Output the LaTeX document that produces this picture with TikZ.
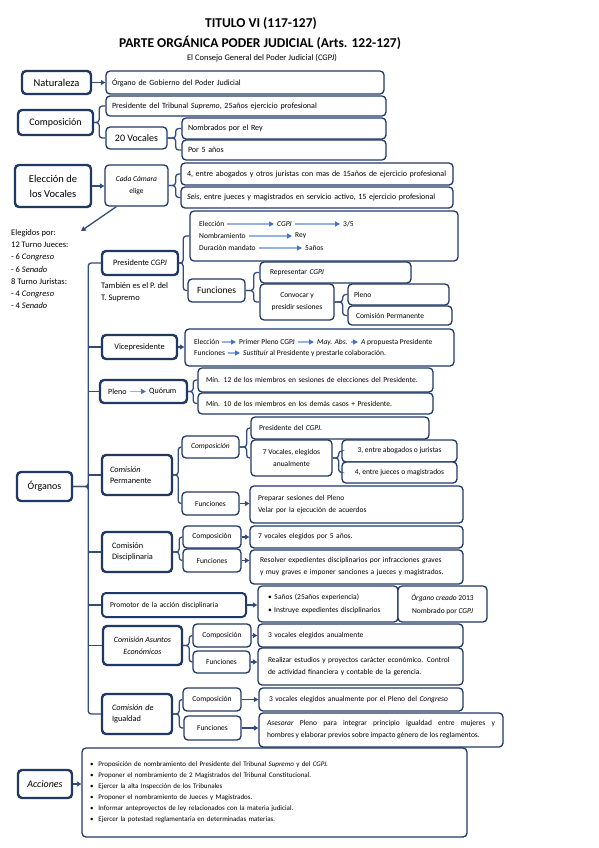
\documentclass[tikz,border=0pt]{standalone}
\usepackage{fontspec}
\setmainfont{Carlito}
\usetikzlibrary{arrows.meta,calc}
\definecolor{navy}{RGB}{31,56,100}
\definecolor{lnc}{RGB}{52,76,122}
\definecolor{lblue}{RGB}{150,178,226}
\definecolor{mblue}{RGB}{68,114,196}
\newcommand\mybox[7]{%
  \pgfmathsetmacro\bw{#5-#3}\pgfmathsetmacro\bh{#6-#4}%
  \pgfmathsetmacro\bcx{(#3+#5)/2}\pgfmathsetmacro\bcy{(#4+#6)/2}%
  \pgfmathsetmacro\btw{#5-#3-12}\pgfmathsetmacro\btwp{#5-#3-16}\pgfmathsetmacro\btwq{#5-#3-20}%
  \node[#2, minimum width=\bw pt, minimum height=\bh pt] (#1) at (\bcx,\bcy) {#7};}
\tikzset{
 bxa/.style={draw=navy, line width=1.3pt, rounded corners=4pt, fill=white, inner sep=0pt, font=\fontsize{7.5}{12}\selectfont, align=center},
 bxc/.style={bxa, font=\fontsize{8}{12}\selectfont},
 bxb/.style={bxa, line width=2.4pt},
 hdr/.style={bxb, font=\fontsize{10.5}{15}\selectfont},
 orgn/.style={bxb, font=\fontsize{8.3}{11.5}\selectfont},
 lft/.style={text width=\btw pt, align=left, inner xsep=6pt},
 lftp/.style={text width=\btwp pt, align=left, inner xsep=8pt},
 lftq/.style={text width=\btwq pt, align=left, inner xsep=10pt},
 conn/.style={draw=lnc, line width=1.3pt},
 brk/.style={conn, rounded corners=3pt},
 arr/.style={conn, -{Triangle[width=5pt,length=4.5pt]}},
 barr/.style={draw=lblue, line width=1.3pt, -{Triangle[width=5pt,length=5pt,color=mblue]}},
 itx/.style={inner xsep=3pt, inner ysep=1pt, font=\fontsize{7.5}{9}\selectfont, anchor=west},
 ptx/.style={inner sep=0pt, align=left},
 ttl/.style={font=\bfseries\fontsize{13.5}{16}\selectfont, inner sep=0pt},
}
\begin{document}
\begin{tikzpicture}[x=1pt,y=-1pt]
\fill[white] (0,0) rectangle (599,848);
\useasboundingbox (0,0) rectangle (599,848);
% titles
\node[ttl] (t1) at (261,24) {TITULO VI (117-127)};
\node[ttl] (t2) at (260,43) {PARTE ORGÁNICA PODER JUDICIAL (Arts. 122-127)};
\node[font=\fontsize{8.5}{10}\selectfont, inner sep=0pt] (t3) at (262,58) {El Consejo General del Poder Judicial (CGPJ)};
% Naturaleza
\mybox{nat}{hdr}{22}{71}{91}{94}{Naturaleza}
\mybox{n1}{bxc,lft}{106}{71}{384}{94}{Órgano de Gobierno del Poder Judicial}
\draw[arr] (nat.east) -- (nat.east -| n1.west);
% Composicion
\mybox{comp}{hdr,font=\fontsize{10}{15}\selectfont}{18}{110}{93}{135}{Composición}
\mybox{c1}{bxc,lft}{106}{96}{386}{116}{Presidente del Tribunal \textit{Supremo}, 25años ejercicio profesional}
\mybox{v20}{bxa,font=\fontsize{10}{12}\selectfont}{106}{127}{167}{149}{20 Vocales}
\mybox{v1}{bxc,lft}{182}{118}{386}{139}{Nombrados por el Rey}
\mybox{v2}{bxc,lft}{182}{140}{386}{160}{Por 5 años}
\draw[brk] (comp.east) -- ++(5,0) |- (c1.west);
\draw[brk] (comp.east) -- ++(5,0) |- (v20.west);
\draw[brk] (v20.east) -- ++(8,0) |- (v1.west);
\draw[brk] (v20.east) -- ++(8,0) |- (v2.west);
% Eleccion
\mybox{elec}{hdr,font=\fontsize{10.5}{15}\selectfont}{15}{165}{91}{207}{Elección de\\los Vocales}
\mybox{cada}{bxa}{105}{165}{168}{206}{\textit{Cada Cámara}\\elige}
\mybox{e1}{bxc,lft}{181}{163}{453}{185}{4, entre abogados y otros juristas con mas de 15años de ejercicio profesional}
\mybox{e2}{bxc,lft}{181}{187}{453}{208}{\textit{Seis}, entre jueces y magistrados en servicio activo, 15 ejercicio profesional}
\draw[arr] (elec.east) -- (elec.east -| cada.west);
\draw[brk] (cada.east) -- ++(7,0) |- (e1.west);
\draw[brk] (cada.east) -- ++(7,0) |- (e2.west);
\coordinate (ee) at (81,231);
\draw[arr] ($(cada.south west)+(12,0)$) -- (ee);
\node[ptx, anchor=north west, font=\fontsize{8.5}{12.3}\selectfont] (eleg) at (11,229)
 {Elegidos por:\\12 Turno Jueces:\\- 6 \textit{Congreso}\\- 6 \textit{Senado}\\8 Turno Juristas:\\- 4 \textit{Congreso}\\- 4 \textit{Senado}};
% Presidente
\mybox{pres}{orgn}{102}{251}{178}{275}{Presidente \textit{CGPJ}}
\mybox{pbig}{bxa}{190}{211}{458}{261}{}
\node[itx] (pe1) at (196,224) {Elección};
\node[itx] (pe2) at (274,224) {\textit{CGPJ}};
\node[itx] (pe3) at (340,224) {3/5};
\node[itx] (pn1) at (196,236) {Nombramiento};
\node[itx] (pn2) at (292,236) {Rey};
\node[itx] (pd1) at (196,248) {Duración mandato};
\node[itx] (pd2) at (302,248) {5años};
\draw[barr] (pe1.east) -- (pe2.west);
\draw[barr] (pe2.east) -- (pe3.west);
\draw[barr] (pn1.east) -- (pn2.west);
\draw[barr] (pd1.east) -- (pd2.west);
\node[ptx, anchor=north west, font=\fontsize{8.5}{12}\selectfont] (tamb) at (101,282) {También es el P. del\\T. Supremo};
\mybox{pfun}{bxa,font=\fontsize{9.5}{12}\selectfont}{188}{279}{245}{302}{Funciones}
\mybox{f1}{bxa,lftq}{260}{262}{411}{283}{Representar \textit{CGPJ}}
\mybox{f2}{bxa}{260}{284}{334}{320}{Convocar y\\presidir sesiones}
\mybox{f3}{bxa,lft}{348}{284}{449}{305}{Pleno}
\mybox{f4}{bxa,lftp}{348}{306}{452}{325}{Comisión Permanente}
\draw[brk] (pres.east) -- ++(4,0) |- (pbig.west);
\draw[brk] (pres.east) -- ++(4,0) |- (pfun.west);
\draw[brk] (pfun.east) -- ++(8,0) |- (f1.west);
\draw[brk] (pfun.east) -- ++(8,0) |- (f2.west);
\draw[brk] (f2.east) -- ++(8,0) |- (f3.west);
\draw[brk] (f2.east) -- ++(8,0) |- (f4.west);
% Vicepresidente
\mybox{vice}{orgn}{102}{335}{177}{359}{Vicepresidente}
\mybox{vbig}{bxa}{185}{329}{454}{366}{}
\node[itx] (vi1) at (191,342) {Elección};
\node[itx] (vi2) at (236,342) {Primer Pleno CGPJ};
\node[itx] (vi3) at (314,342) {\textit{May. Abs.}};
\node[itx] (vi4) at (358,342) {\textit{A} propuesta Presidente};
\node[itx] (vf1) at (191,353) {Funciones};
\node[itx] (vf2) at (240,353) {\textit{Sustituir} al Presidente y prestarle colaboración.};
\draw[barr] (vi1.east) -- (vi2.west);
\draw[barr] (vi2.east) -- (vi3.west);
\draw[barr] (vi3.east) -- (vi4.west);
\draw[barr] (vf1.east) -- (vf2.west);
\draw[arr] (vice.east) -- (vice.east -| vbig.west);
% Pleno
\mybox{pleno}{bxb}{100}{380}{187}{403}{}
\node[itx,font=\fontsize{8}{9}\selectfont] (pl1) at (105,391.5) {Pleno};
\node[itx,font=\fontsize{8}{9}\selectfont] (pl2) at (146,391.5) {Quórum};
\draw[barr] (pl1.east) -- (pl2.west);
\mybox{q1}{bxa,lftp}{198}{368}{433}{392}{Mín. 12 de los miembros en sesiones de elecciones del Presidente.}
\mybox{q2}{bxa,lftp}{198}{393}{433}{414}{Mín. 10 de los miembros en los demás casos + Presidente.}
\draw[brk] (pleno.east) -- ++(5,0) |- (q1.west);
\draw[brk] (pleno.east) -- ++(5,0) |- (q2.west);
% Comision Permanente
\mybox{perm}{orgn,lftp}{102}{455}{172}{495}{\textit{Comisión}\\Permanente}
\mybox{pcomp}{bxa}{182}{436}{239}{458}{\textit{Composición}}
\mybox{pc1}{bxa,lftp}{251}{417}{429}{439}{Presidente del \textit{CGPJ}.}
\mybox{pc2}{bxa}{251}{440}{332}{476}{7 Vocales, elegidos\\anualmente}
\mybox{pc3}{bxa}{342}{440}{457}{462}{3, entre abogados o juristas}
\mybox{pc4}{bxa}{342}{462}{457}{483}{4, entre jueces o magistrados}
\mybox{pfun2}{bxa}{182}{492}{239}{515}{Funciones}
\mybox{pf1}{bxa,lftp}{250}{486}{463}{523}{Preparar sesiones del Pleno\\Velar por la ejecución de acuerdos}
\draw[brk] (perm.east) -- ++(5,0) |- (pcomp.west);
\draw[brk] (perm.east) -- ++(5,0) |- (pfun2.west);
\draw[brk] (pcomp.east) -- ++(7,0) |- (pc1.west);
\draw[brk] (pcomp.east) -- ++(7,0) |- (pc2.west);
\draw[brk] (pc2.east) -- ++(6,0) |- (pc3.west);
\draw[brk] (pc2.east) -- ++(6,0) |- (pc4.west);
\draw[arr] (pfun2.east) -- (pfun2.east -| pf1.west);
% Comision Disciplinaria
\mybox{disc}{orgn,lftq}{102}{532}{172}{572}{Comisión\\Disciplinaria}
\mybox{dcomp}{bxa}{183}{526}{241}{548}{Composición}
\mybox{dc1}{bxa,lftp}{250}{526}{463}{548}{7 vocales elegidos por 5 años.}
\mybox{dfun}{bxa}{183}{549}{241}{572}{Funciones}
\mybox{df1}{bxa,lftq}{250}{550}{463}{584}{Resolver expedientes disciplinarios por infracciones graves\\y muy graves e imponer sanciones a jueces y magistrados.}
\draw[brk] (disc.east) -- ++(6,0) |- (dcomp.west);
\draw[brk] (disc.east) -- ++(6,0) |- (dfun.west);
\draw[arr] (dcomp.east) -- (dcomp.east -| dc1.west);
\draw[arr] (dfun.east) -- (dfun.east -| df1.west);
% Promotor
\mybox{prom}{bxb,lftp,line width=2pt}{102}{593}{246}{617}{Promotor de la acción disciplinaria}
\mybox{pr1}{bxa,lftq,font=\fontsize{7.5}{13}\selectfont}{258}{586}{398}{622}{\textbullet\ 5años (25años experiencia)\\\textbullet\ Instruye expedientes disciplinarios}
\mybox{pr2}{bxa,font=\fontsize{7.5}{13}\selectfont}{398}{586}{487}{622}{\textit{Órgano creado} 2013\\Nombrado por \textit{CGPJ}}
\draw[arr] (prom.east) -- (prom.east -| pr1.west);
% Asuntos Economicos
\mybox{econ}{orgn,font=\itshape\fontsize{8}{12}\selectfont}{103}{626}{182}{665}{Comisión Asuntos\\Económicos}
\mybox{ecomp}{bxa}{193}{624}{251}{647}{Composición}
\mybox{ec1}{bxa,lftq}{258}{624}{463}{647}{3 vocales elegidos anualmente}
\mybox{efun}{bxa}{193}{651}{250}{673}{Funciones}
\mybox{ef1}{bxa,lftq}{258}{648}{463}{685}{Realizar estudios y proyectos carácter económico. Control\\de actividad financiera y contable de la gerencia.}
\draw[brk] (econ.east) -- ++(6,0) |- (ecomp.west);
\draw[brk] (econ.east) -- ++(6,0) |- (efun.west);
\draw[arr] (ecomp.east) -- (ecomp.east -| ec1.west);
\draw[arr] (efun.east) -- (efun.east -| ef1.west);
% Igualdad
\mybox{igual}{orgn,lftq}{102}{694}{172}{734}{\textit{Comisión de}\\Igualdad}
\mybox{icomp}{bxa}{183}{688}{241}{711}{Composición}
\mybox{ic1}{bxa,lftq}{259}{688}{463}{711}{3 vocales elegidos anualmente por el Pleno del \textit{Congreso}}
\mybox{ifun}{bxa}{184}{716}{241}{740}{Funciones}
\mybox{if1}{bxa,lftp,align=justify}{259}{713}{503}{747}{\textit{Asesorar} Pleno para integrar principio igualdad entre mujeres y\linebreak hombres y elaborar previos sobre impacto género de los reglamentos.}
\draw[brk] (igual.east) -- ++(6,0) |- (icomp.west);
\draw[brk] (igual.east) -- ++(6,0) |- (ifun.west);
\draw[arr] (icomp.east) -- (icomp.east -| ic1.west);
\draw[arr] (ifun.east) -- (ifun.east -| if1.west);
% Organos tree
\mybox{org}{hdr,font=\fontsize{10}{15}\selectfont}{17}{472}{72}{501}{Órganos}
\draw[brk] (org.east) -- ++(15,0) |- (pres.west);
\draw[brk] (org.east) -- ++(15,0) |- (igual.west);
\foreach \n in {vice,pleno,perm,disc,prom,econ} \draw[conn] (org.east) -- ++(15,0) |- (\n.west);
% Acciones
\mybox{acc}{hdr,font=\fontsize{10}{15}\selectfont}{18}{770}{72}{798}{\textit{Acciones}}
\mybox{ab}{bxa,lftp,font=\fontsize{7}{11}\selectfont}{82}{748}{467}{837}{%
\textbullet\hspace{5pt}Proposición de nombramiento del Presidente del Tribunal \textit{Supremo} y del \textit{CGPJ}.\\
\textbullet\hspace{5pt}Proponer el nombramiento de 2 Magistrados del Tribunal Constitucional.\\
\textbullet\hspace{5pt}Ejercer la alta Inspección de los Tribunales\\
\textbullet\hspace{5pt}Proponer el nombramiento de Jueces y Magistrados.\\
\textbullet\hspace{5pt}Informar anteproyectos de ley relacionados con la materia judicial.\\
\textbullet\hspace{5pt}Ejercer la potestad reglamentaria en determinadas materias.}
\draw[arr] (acc.east) -- (acc.east -| ab.west);
\end{tikzpicture}
\end{document}
